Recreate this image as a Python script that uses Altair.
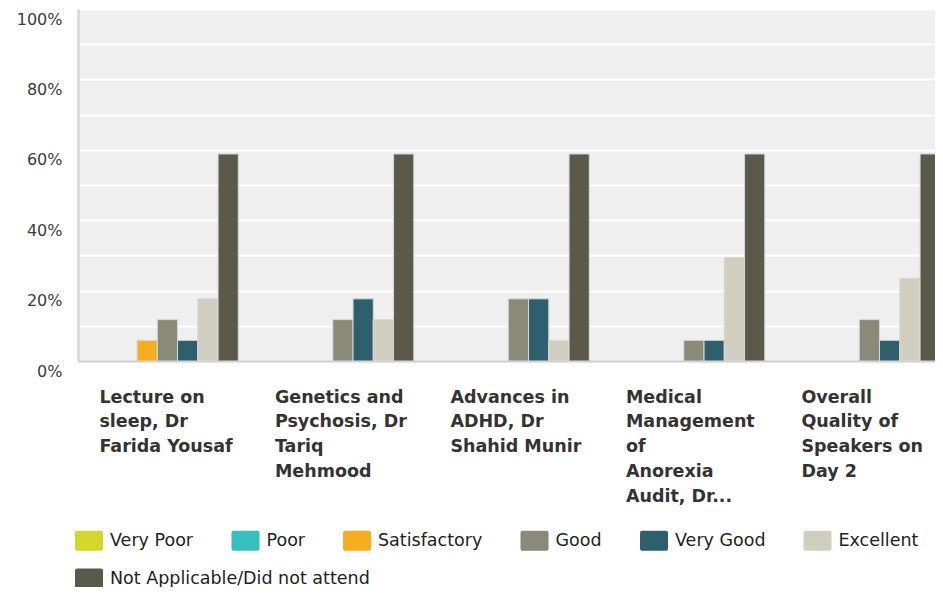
import altair as alt
import pandas as pd

categories = [
    "Lecture on|sleep, Dr|Farida Yousaf",
    "Genetics and|Psychosis, Dr|Tariq|Mehmood",
    "Advances in|ADHD, Dr|Shahid Munir",
    "Medical|Management|of|Anorexia|Audit, Dr...",
    "Overall|Quality of|Speakers on|Day 2",
]
series = ["Very Poor", "Poor", "Satisfactory", "Good", "Very Good", "Excellent",
          "Not Applicable/Did not attend"]
colors = ["#d3d62b", "#36bfbf", "#f5ae1f", "#8a8a78", "#2e5f6c", "#cfcebf", "#5b5a4a"]

very_poor = [0, 0, 0, 0, 0]
poor = [0, 0, 0, 0, 0]
satisfactory = [5.88, 0, 0, 0, 0]
good = [11.76, 11.76, 17.65, 5.88, 11.76]
very_good = [5.88, 17.65, 17.65, 5.88, 5.88]
excellent = [17.65, 11.76, 5.88, 29.41, 23.53]
not_applicable = [58.82, 58.82, 58.82, 58.82, 58.82]

all_values = [very_poor, poor, satisfactory, good, very_good, excellent, not_applicable]
rows = []
for s, vals in zip(series, all_values):
    for c, v in zip(categories, vals):
        rows.append({"category": c, "series": s, "value": v})
df = pd.DataFrame(rows)

legend_path = ("M-1.2,-1 L1.2,-1 Q1.4,-1 1.4,-0.8 L1.4,0.8 Q1.4,1 1.2,1 "
               "L-1.2,1 Q-1.4,1 -1.4,0.8 L-1.4,-0.8 Q-1.4,-1 -1.2,-1 Z")

x_enc = alt.X("category:N", sort=categories,
              scale=alt.Scale(paddingInner=0.192, paddingOuter=0.0604, align=0.873),
              axis=alt.Axis(title=None, labelExpr="split(datum.label, '|')", labelAngle=0,
                            labelAlign="left", labelBaseline="top", labelOffset=-68,
                            labelPadding=27, labelFont="DejaVu Sans", labelFontWeight="bold",
                            labelFontSize=17.5, labelColor="#333333", labelLineHeight=24.8,
                            labelOverlap=False, labelBound=False, labelLimit=300,
                            ticks=False, domainColor="#cccccc", domainWidth=2, grid=False))
xo_enc = alt.XOffset("series:N", sort=series,
                     scale=alt.Scale(domain=series, paddingInner=0, paddingOuter=0))
y_enc = alt.Y("value:Q", scale=alt.Scale(domain=[0, 100], nice=False),
              axis=alt.Axis(title=None, values=list(range(0, 101, 10)),
                            labelExpr="round(datum.value/10) % 2 == 0 ? datum.value + '%' : ''",
                            grid=True, gridColor="white", gridWidth=2, ticks=False,
                            domainColor="#d6d6d6", domainWidth=2.5,
                            labelFont="DejaVu Sans", labelFontSize=16, labelColor="#3c3c3c",
                            labelPadding=16, labelBaseline="top", labelOffset=2))


def legend(values, y):
    return alt.Legend(title=None, orient="none", legendX=1, legendY=y, values=values,
                      direction="horizontal", columnPadding=37.5, rowPadding=21,
                      symbolType=legend_path, symbolSize=400,
                      symbolStrokeWidth=0, symbolOpacity=1,
                      labelFont="DejaVu Sans", labelFontSize=17.5,
                      labelColor="#222222", labelOffset=11,
                      labelLimit=400, padding=0)


base = alt.Chart(df).transform_filter("datum.value > 0").mark_bar(
    stroke="#d9d9d9", strokeWidth=1)

ratings = base.transform_filter(alt.datum.series != series[-1]).encode(
    x=x_enc, xOffset=xo_enc, y=y_enc,
    color=alt.Color("series:N", scale=alt.Scale(domain=series, range=colors),
                    legend=legend(series[:-1], 521.8)),
)
na = base.transform_filter(alt.datum.series == series[-1]).encode(
    x=x_enc, xOffset=xo_enc, y=y_enc,
    color=alt.Color("series:N", scale=alt.Scale(domain=series, range=colors),
                    legend=legend(series[-1:], 559.5)),
)

chart = alt.layer(ratings, na).resolve_scale(color="independent").properties(
    width=865, height=352,
    autosize=alt.AutoSizeParams(type="none"),
    padding={"left": 70, "top": 1, "right": -8, "bottom": 226},
).configure_view(fill="#efefef", strokeWidth=0)

chart.save("out.html", embed_options={"renderer": "svg", "actions": False})
